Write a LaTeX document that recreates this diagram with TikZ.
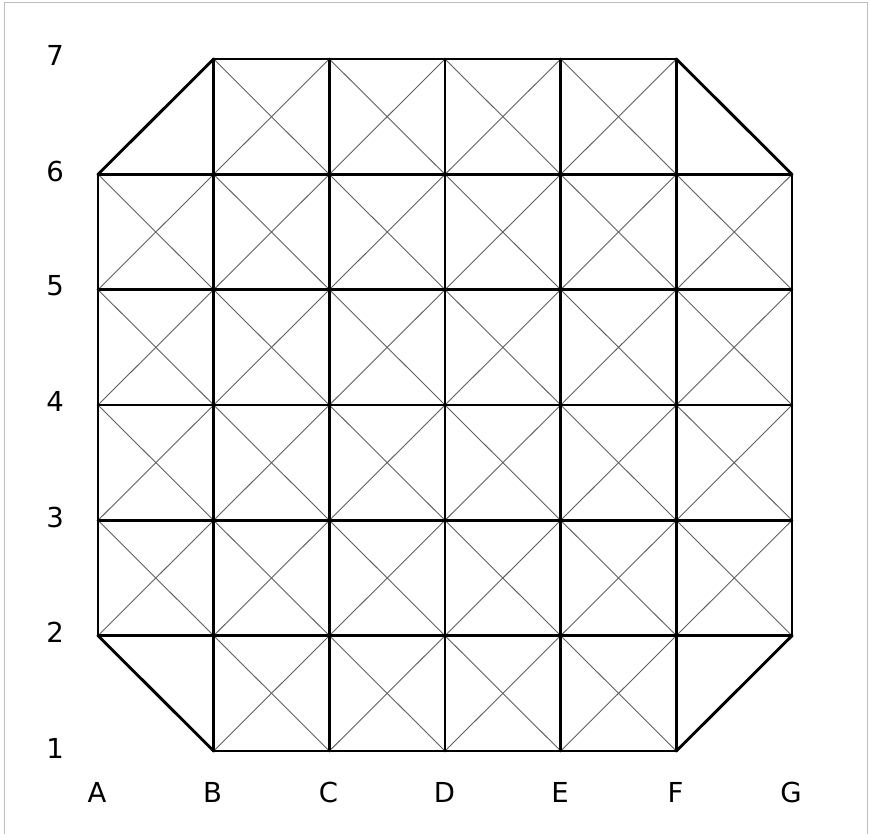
\documentclass[tikz,border=0pt]{standalone}
\usepackage{fontspec}
\setmainfont{DejaVu Sans}
\definecolor{thingray}{RGB}{95,95,95}
\definecolor{framegray}{RGB}{190,190,190}
\begin{document}
\begin{tikzpicture}[
  thick line/.style={line width=2.9pt, black, line cap=round, line join=round},
  thin line/.style={line width=0.9pt, thingray},
  lbl/.style={font=\fontsize{27.5pt}{30pt}\selectfont, inner sep=0pt, anchor=center}
]
\useasboundingbox (0pt,0pt) rectangle (870pt,-833pt);
% frame
\draw[framegray, line width=1pt] (4pt,-840pt) -- (4pt,-2pt) -- (867pt,-2pt) -- (867pt,-840pt);
\begin{scope}[shift={(98pt,-751pt)}, x=115.67pt, y=115.33pt]
  % thin diagonals
  \foreach \i in {0,...,5}{
    \foreach \j in {0,...,5}{
      \pgfmathtruncatemacro{\skip}{((\i==0 || \i==5) && (\j==0 || \j==5)) ? 1 : 0}
      \ifnum\skip=0
        \draw[thin line] (\i,\j) -- (\i+1,\j+1);
        \draw[thin line] (\i,\j+1) -- (\i+1,\j);
      \fi
    }
  }
  % thick grid
  \draw[thick line] (1,0) -- (5,0);
  \draw[thick line] (1,6) -- (5,6);
  \foreach \j in {1,...,5}{ \draw[thick line] (0,\j) -- (6,\j); }
  \draw[thick line] (0,1) -- (0,5);
  \draw[thick line] (6,1) -- (6,5);
  \foreach \i in {1,...,5}{ \draw[thick line] (\i,0) -- (\i,6); }
  % corner cuts
  \draw[thick line] (0,1) -- (1,0);
  \draw[thick line] (5,0) -- (6,1);
  \draw[thick line] (0,5) -- (1,6);
  \draw[thick line] (5,6) -- (6,5);
\end{scope}
% labels
\foreach \r/\y in {1/748,2/632.5,3/517,4/401.5,5/286,6/171,7/55.5}{
  \node[lbl] (row\r) at (55pt,-\y pt) {\r};
}
\foreach \c/\x in {A/97,B/212.5,C/328.5,D/444.5,E/560,F/675.5,G/791}{
  \node[lbl] (col\c) at (\x pt,-792pt) {\c};
}
\end{tikzpicture}
\end{document}
